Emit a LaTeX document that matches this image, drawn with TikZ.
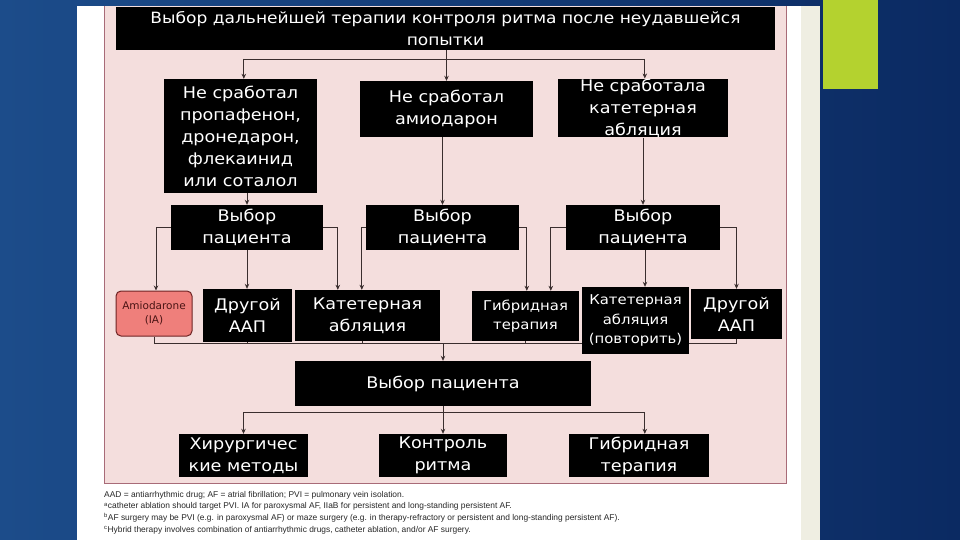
\documentclass[tikz,border=0pt]{standalone}
\usepackage{fontspec}
\setmainfont{DejaVu Sans}
\newfontfamily\boxfont{DejaVu Sans}[FakeStretch=1.1]
\newfontfamily\notefont{Liberation Sans}
\usetikzlibrary{arrows.meta}
\pgfdeclarelayer{back}
\pgfdeclarelayer{lines}
\pgfsetlayers{back,lines,main}
\definecolor{bgL}{HTML}{1C4C8A}
\definecolor{bgR}{HTML}{0B2A62}
\definecolor{pinkbg}{HTML}{F4DEDD}
\definecolor{pinkln}{HTML}{A86B78}
\definecolor{creamc}{HTML}{EFEEE2}
\definecolor{greenc}{HTML}{B4D22F}
\definecolor{linec}{HTML}{3A2E2E}
\definecolor{amiofill}{HTML}{EF7F7B}
\definecolor{amiodraw}{HTML}{6E2424}
\definecolor{amiotext}{HTML}{4A1414}
\begin{document}
\begin{tikzpicture}[x=1pt,y=-1pt,
  blk/.style={fill=black,text=white,inner sep=0pt,align=center,font=\boxfont\fontsize{16}{22}\selectfont},
  blks/.style={blk,font=\boxfont\fontsize{13.5}{19.5}\selectfont},
  amio/.style={fill=amiofill,draw=amiodraw,line width=1pt,rounded corners=5pt,text=amiotext,inner sep=0pt,align=center,font=\fontsize{10.5}{14}\selectfont},
  ln/.style={draw=linec,line width=0.7pt},
  arr/.style={ln,-{Stealth[length=5pt,width=4.5pt]}},
]
\useasboundingbox (0,0) rectangle (960,540);
\begin{pgfonlayer}{back}
  \shade[left color=bgL,right color=bgR] (0,0) rectangle (960,540);
  \fill[white] (77,6) rectangle (820,540);
  \fill[creamc] (801,6) rectangle (820,540);
  \fill[pinkbg] (104,6) rectangle (786,483);
  \draw[pinkln,line width=0.8pt] (104,6) -- (104,483) -- (786,483) -- (786,6);
  \fill[greenc] (823,0) rectangle (878,89);
\end{pgfonlayer}

% top
\node[blk,font=\boxfont\fontsize{15.5}{22}\selectfont,minimum width=659pt,minimum height=43pt] (top) at (445.5,28.5)
  {Выбор дальнейшей терапии контроля ритма после неудавшейся\\попытки};
% row 1
\node[blk,minimum width=153pt,minimum height=114pt] (B1) at (240.5,136)
  {Не сработал\\пропафенон,\\дронедарон,\\флекаинид\\или соталол};
\node[blk,minimum width=173pt,minimum height=56pt] (B2) at (446.5,109)
  {Не сработал\\амиодарон};
\node[blk,minimum width=170pt,minimum height=58pt] (B3) at (643,108)
  {Не сработала\\катетерная\\абляция};
% row 2
\node[blk,minimum width=152pt,minimum height=45pt] (P1) at (247,227.5) {Выбор\\пациента};
\node[blk,minimum width=153pt,minimum height=45pt] (P2) at (442.5,227.5) {Выбор\\пациента};
\node[blk,minimum width=154pt,minimum height=45pt] (P3) at (643,227.5) {Выбор\\пациента};
% row 3
\node[amio,minimum width=76pt,minimum height=45pt] (A) at (154,313.5) {Amiodarone\\(IA)};
\node[blk,minimum width=89pt,minimum height=53pt] (D1) at (247.5,315.5) {Другой\\ААП};
\node[blk,minimum width=145pt,minimum height=51pt] (K1) at (367.5,315.5) {Катетерная\\абляция};
\node[blks,minimum width=107pt,minimum height=50pt] (G1) at (525.5,316) {Гибридная\\терапия};
\node[blks,minimum width=107pt,minimum height=67pt] (K2) at (635.5,320.5) {Катетерная\\абляция\\(повторить)};
\node[blk,minimum width=91pt,minimum height=50pt] (D2) at (736.5,314) {Другой\\ААП};
% row 4
\node[blk,minimum width=296pt,minimum height=45pt] (BP) at (443,383.5) {Выбор пациента};
% row 5
\node[blk,minimum width=129pt,minimum height=43pt] (H) at (243.5,455.5) {Хирургичес\\кие методы};
\node[blk,minimum width=128pt,minimum height=43pt] (KR) at (443,455.5) {Контроль\\ритма};
\node[blk,minimum width=140pt,minimum height=43pt] (G2) at (639,455.5) {Гибридная\\терапия};

% notes
\node[anchor=north west,align=left,inner sep=0pt,text=black!85,
  font=\notefont\fontsize{8.4}{11.7}\selectfont] (notes) at (104,491)
  {AAD = antiarrhythmic drug; AF = atrial fibrillation; PVI = pulmonary vein isolation.\\
   \textsuperscript{a}catheter ablation should target PVI. IA for paroxysmal AF, IIaB for persistent and long-standing persistent AF.\\
   \textsuperscript{b}AF surgery may be PVI (e.g. in paroxysmal AF) or maze surgery (e.g. in therapy-refractory or persistent and long-standing persistent AF).\\
   \textsuperscript{c}Hybrid therapy involves combination of antiarrhythmic drugs, catheter ablation, and/or AF surgery.};

\coordinate (j1) at (0,59);
\coordinate (bus) at (0,343);
\coordinate (j2) at (0,412);
\begin{pgfonlayer}{lines}
  % top -> row 1
  \draw[ln] ([xshift=80pt]B1.north west |- j1) -- ([xshift=87pt]B3.north west |- j1);
  \draw[arr] ([xshift=80pt]B1.north west |- j1) -- ([xshift=80pt]B1.north west);
  \draw[arr] (top.south -| B2.north) -- (B2.north);
  \draw[arr] ([xshift=87pt]B3.north west |- j1) -- ([xshift=87pt]B3.north west);
  % row 1 -> row 2
  \draw[arr] (B1.south -| P1.north) -- (P1.north);
  \draw[arr] (B2.south -| P2.north) -- (P2.north);
  \draw[arr] (B3.south -| P3.north) -- (P3.north);
  % row 2 -> row 3
  \draw[arr] (P1.west) -| ([xshift=2pt]A.north);
  \draw[arr] (P1.south) -- (P1.south |- D1.north);
  \draw[arr] (P1.east) -| ([xshift=43pt]K1.north west);
  \draw[arr] (P2.west) -| ([xshift=67pt]K1.north west);
  \draw[arr] (P2.east) -| ([xshift=55pt]G1.north west);
  \draw[arr] (P3.west) -| ([xshift=79pt]G1.north west);
  \draw[arr] ([xshift=2pt]P3.south) -- ([xshift=2pt]P3.south |- K2.north);
  \draw[arr] (P3.east) -| (D2.north);
  % row 3 -> bus -> BP
  \draw[ln] (A.south) -- (A.south |- bus) -- (D2.south |- bus) -- (D2.south);
  \draw[ln] (D1.south) -- (D1.south |- bus);
  \draw[ln] ([xshift=-5pt]K1.south) -- ([xshift=-5pt]K1.south |- bus);
  \draw[ln] (G1.south) -- (G1.south |- bus);
  \draw[arr] (BP.north |- bus) -- (BP.north);
  % BP -> row 5
  \draw[ln] (BP.south) -- (BP.south |- j2);
  \draw[ln] (H.north |- j2) -- ([xshift=76pt]G2.north west |- j2);
  \draw[arr] (H.north |- j2) -- (H.north);
  \draw[arr] (BP.south |- j2) -- (KR.north);
  \draw[arr] ([xshift=76pt]G2.north west |- j2) -- ([xshift=76pt]G2.north west);
\end{pgfonlayer}
\end{tikzpicture}
\end{document}
